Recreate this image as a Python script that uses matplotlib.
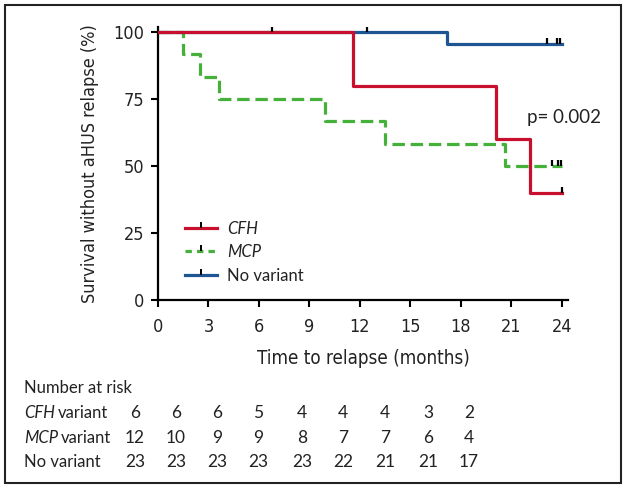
import matplotlib
matplotlib.use('Agg')
import matplotlib.pyplot as plt
from matplotlib.lines import Line2D
from matplotlib.patches import Rectangle

# survival steps (months, % without relapse)
cfh_t = [0, 11.6, 20.1, 22.1, 24]
cfh_s = [100, 80, 60, 40, 40]
mcp_t = [0, 1.5, 2.5, 3.65, 9.9, 13.5, 20.6, 24]
mcp_s = [100, 91.7, 83.3, 75, 66.7, 58.3, 50, 50]
nov_t = [0, 17.2, 24]
nov_s = [100, 95.6, 95.6]

# censored observations
cfh_cens_t = [6.8, 24]
cfh_cens_s = [100, 40]
mcp_cens_t = [23.4, 23.8, 23.95]
mcp_cens_s = [50, 50, 50]
nov_cens_t = [12.4, 23.1, 23.7, 23.9]
nov_cens_s = [100, 95.6, 95.6, 95.6]

risk_rows = ['CFH variant', 'MCP variant', 'No variant']
risk_counts = [
    [6, 6, 6, 5, 4, 4, 4, 3, 2],
    [12, 10, 9, 9, 8, 7, 7, 6, 4],
    [23, 23, 23, 23, 23, 22, 21, 21, 17],
]

RED = '#c8102e'
GREEN = '#45b03a'
BLUE = '#1d5693'
TXT = '#222222'
REG = ['Lato', 'DejaVu Sans']
NARROW = dict(family='DejaVu Sans', stretch='condensed')

plt.rcParams['font.family'] = REG

fig = plt.figure(figsize=(6.25, 4.86), dpi=100)
ax = fig.add_axes([0.2528, 0.3827, 0.656, 0.5623])

lw = 2.3
ax.step(cfh_t, cfh_s, where='post', color=RED, lw=lw, zorder=3)
ax.step(mcp_t, mcp_s, where='post', color=GREEN, lw=lw, dashes=(3.9, 1.8), zorder=2)
ax.step(nov_t, nov_s, where='post', color=BLUE, lw=lw, zorder=2)
for t, s in [(cfh_cens_t, cfh_cens_s), (mcp_cens_t, mcp_cens_s), (nov_cens_t, nov_cens_s)]:
    ax.plot(t, s, ls='none', marker=2, ms=4.5, mew=1.6, color='black', zorder=4)

ax.set_xlim(0, 24.37)
ax.set_ylim(0, 102)
ax.set_xticks(range(0, 25, 3))
ax.set_yticks([0, 25, 50, 75, 100])
for sp in ['top', 'right']:
    ax.spines[sp].set_visible(False)
for sp in ['left', 'bottom']:
    ax.spines[sp].set_linewidth(1.6)
ax.tick_params(direction='out', length=5, width=1.5, colors='black', labelcolor=TXT)
ax.tick_params(axis='x', pad=8)
ax.tick_params(axis='y', pad=5)
for lab in ax.get_xticklabels() + ax.get_yticklabels():
    lab.set_family(NARROW['family'])
    lab.set_stretch(NARROW['stretch'])
    lab.set_fontsize(13)
ax.set_xlabel('Time to relapse (months)', fontsize=13.5, color=TXT, labelpad=9, **NARROW)
ax.set_ylabel('Survival without aHUS relapse (%)', fontsize=13, color=TXT, labelpad=10, **NARROW)

ax.text(21.94, 68.3, 'p= 0.002', fontsize=13.5, color=TXT, ha='left', va='center')

handles = [
    Line2D([], [], color=RED, lw=lw, marker=2, ms=4.5, mew=1.4, mec='black'),
    Line2D([], [], color=GREEN, lw=lw, dashes=(2, 1.6), marker=2, ms=4.5, mew=1.4, mec='black'),
    Line2D([], [], color=BLUE, lw=lw, marker=2, ms=4.5, mew=1.4, mec='black'),
]
leg = ax.legend(handles, ['CFH', 'MCP', 'No variant'], loc='lower left',
                bbox_to_anchor=(0.03, 0.005), frameon=False, fontsize=12,
                handlelength=1.9, handletextpad=0.6, labelspacing=0.45, numpoints=1)
for txt in leg.get_texts():
    txt.set_color(TXT)
leg.get_texts()[0].set_style('italic')
leg.get_texts()[1].set_style('italic')

# number at risk table
W, H = 625.0, 486.0
FS = 12
fig.text(24 / W, 1 - 388 / H, 'Number at risk', fontsize=FS, color=TXT, va='center')
row_y = [413, 438, 462]
col_x = [135, 176, 217, 258, 302, 343, 385, 428, 469]
fig.canvas.draw()
for name, counts, y in zip(risk_rows, risk_counts, row_y):
    if name != 'No variant':
        gene, rest = name.split(' ', 1)
        t = fig.text(24 / W, 1 - y / H, gene, fontsize=FS, color=TXT, va='center', style='italic')
        bb = t.get_window_extent(renderer=fig.canvas.get_renderer())
        fig.text((bb.x1 + 3) / W, 1 - y / H, rest, fontsize=FS, color=TXT, va='center')
    else:
        fig.text(24 / W, 1 - y / H, name, fontsize=FS, color=TXT, va='center')
    for x, c in zip(col_x, counts):
        fig.text(x / W, 1 - y / H, str(c), fontsize=12.5, color=TXT, va='center', ha='center')

# outer frame
fig.patches.append(Rectangle((5 / W, 1 - 483 / H), 616 / W, 478 / H, transform=fig.transFigure,
                             fill=False, edgecolor='#222222', lw=1.5))

fig.savefig('out.png', dpi=100)
